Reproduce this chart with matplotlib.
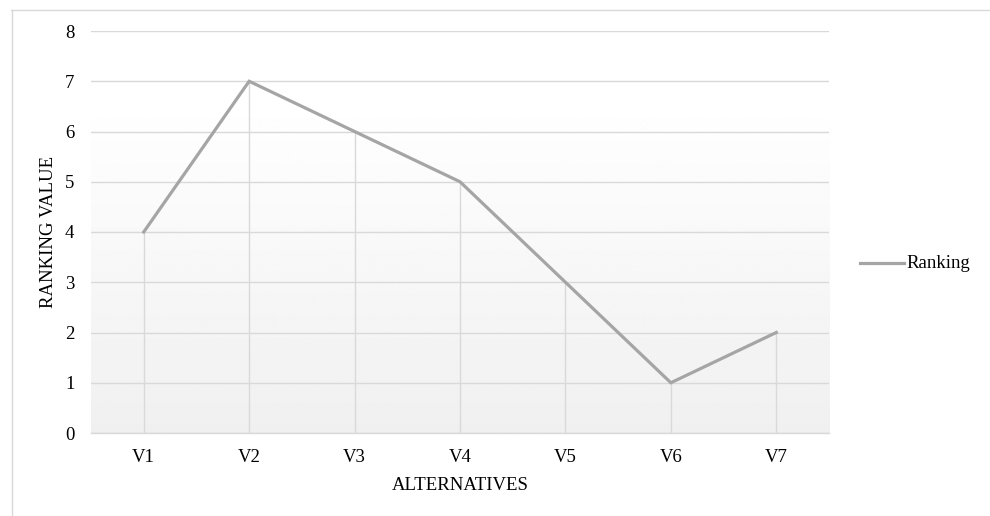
import numpy as np
import matplotlib.pyplot as plt
from matplotlib.lines import Line2D

categories = ["V1", "V2", "V3", "V4", "V5", "V6", "V7"]
ranking = [4, 7, 6, 5, 3, 1, 2]
y_ticks = [0, 1, 2, 3, 4, 5, 6, 7, 8]

plt.rcParams['font.family'] = ['Liberation Serif', 'DejaVu Serif']
FS = 13.5
LINE_COLOR = '#a5a5a5'
GRID_COLOR = '#d9d9d9'

W, H = 990, 516
fig = plt.figure(figsize=(W / 100, H / 100), dpi=100)
ax = fig.add_axes([91 / W, 1 - 433 / H, (829 - 91) / W, (433 - 31) / H])

x = np.arange(len(categories))
ax.set_xlim(-0.5, len(categories) - 0.5)
ax.set_ylim(0, 8)

# soft vertical gradient in the plot area: white at top, light gray at bottom
yy = np.linspace(0, 8, 400)
t = np.clip((6.7 - yy) / 6.7, 0, 1)
shade = 1.0 - t * (1.0 - 0.94)
grad = np.repeat(shade[:, None], 2, axis=1)
ax.imshow(grad, cmap='gray', vmin=0, vmax=1, origin='lower', aspect='auto',
          extent=[-0.5, len(categories) - 0.5, 0, 8], zorder=0,
          interpolation='bilinear')

ax.set_yticks(y_ticks)
ax.yaxis.grid(True, color=GRID_COLOR, linewidth=1.0, zorder=1)
ax.set_axisbelow(True)

# drop lines from each point to the category axis
ax.vlines(x, 0, ranking, colors=GRID_COLOR, linewidth=1.0, zorder=2)

ax.plot(x, ranking, color=LINE_COLOR, linewidth=2.3, solid_joinstyle='miter',
        zorder=3)

for s in ['top', 'right', 'left']:
    ax.spines[s].set_visible(False)
ax.spines['bottom'].set_color(GRID_COLOR)
ax.spines['bottom'].set_linewidth(1.0)

ax.set_xticks(x)
ax.set_xticklabels(categories)
ax.tick_params(axis='both', length=0, labelsize=FS, colors='black')
ax.tick_params(axis='x', pad=11.5)
ax.tick_params(axis='y', pad=12)

fig.text(460 / W, 1 - 486 / H, 'ALTERNATIVES', fontsize=FS,
         ha='center', va='center')
fig.text(49 / W, 1 - 232 / H, 'RANKING VALUE', fontsize=FS,
         rotation=90, ha='center', va='center')

# legend entry on the right
fig.add_artist(Line2D([860 / W, 904 / W], [1 - 263 / H, 1 - 263 / H],
                      color=LINE_COLOR, linewidth=2.3))
fig.text(906 / W, 1 - 263 / H, 'Ranking', fontsize=FS,
         ha='left', va='center')

# thin outer frame along the top and left edges
fig.add_artist(Line2D([11 / W, 1.0], [1 - 9.5 / H, 1 - 9.5 / H],
                      color=GRID_COLOR, linewidth=1.0))
fig.add_artist(Line2D([11.5 / W, 11.5 / W], [0, 1 - 9.5 / H],
                      color=GRID_COLOR, linewidth=1.0))

fig.savefig('out.png', dpi=100, facecolor='white')
